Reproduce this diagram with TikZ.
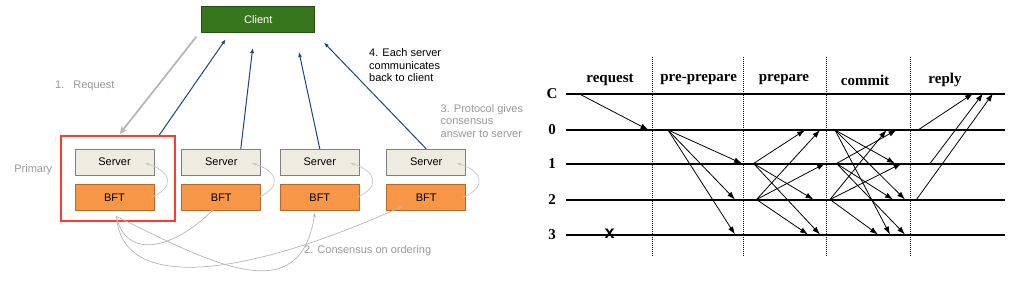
\documentclass[tikz,border=0pt]{standalone}
\usepackage{fontspec}
\setmainfont{Liberation Sans}
\newfontfamily\chartfont{Liberation Serif}
\usepackage{xcolor}
\usepackage{tikz}
\usetikzlibrary{arrows.meta,positioning,calc}

\definecolor{clientgreen}{HTML}{38761D}
\definecolor{clientedge}{HTML}{274E13}
\definecolor{srvfill}{HTML}{EEECE1}
\definecolor{srvedge}{HTML}{7F7F7F}
\definecolor{bftfill}{HTML}{F79646}
\definecolor{bftedge}{HTML}{B46A2E}
\definecolor{primred}{HTML}{FF3B2F}
\definecolor{replyblue}{HTML}{1C4587}
\definecolor{notegray}{HTML}{999999}
\definecolor{linkgray}{HTML}{B7B7B7}

\begin{document}
\begin{tikzpicture}[
    x=1pt, y=-1pt,
    box/.style={draw, line width=0.8pt, minimum width=79pt, minimum height=26pt, inner sep=0pt, font=\fontsize{11}{12}\selectfont},
    srv/.style={box, fill=srvfill, draw=srvedge},
    bft/.style={box, fill=bftfill, draw=bftedge},
    note/.style={font=\fontsize{11}{12.5}\selectfont, align=left, inner sep=0pt},
    reqarr/.style={draw=linkgray, line width=1.8pt, -{Stealth[length=8pt,width=7pt]}},
    backarr/.style={draw=replyblue, line width=1pt, -{Latex[length=5pt,width=4pt]}},
    linkarr/.style={draw=linkgray, line width=0.7pt, -{Stealth[length=4pt,width=3pt]}},
    lane/.style={line width=2pt},
    phase/.style={line width=0.9pt, dash pattern=on 1pt off 1pt},
    msg/.style={line width=0.8pt, -{Latex[length=8pt,width=5.5pt]}},
    hdr/.style={font=\chartfont\bfseries\fontsize{15}{17}\selectfont, inner sep=0pt},
    lanelbl/.style={font=\chartfont\bfseries\fontsize{15}{17}\selectfont, inner sep=0pt}
]
\fill[white] (0,0) rectangle (1024,285);
\useasboundingbox (0,0) rectangle (1024,285);

% client and replicas
\node[draw=clientedge, line width=0.8pt, fill=clientgreen, text=white, minimum width=113pt, minimum height=26pt, font=\fontsize{11}{12}\selectfont] (client) at (258.3,19.2) {Client};
\node[draw=primred, line width=2pt, minimum width=114pt, minimum height=85pt] (prim) at (117.7,178.5) {};
\node[srv] (s1) at (114.5,162.2) {Server};
\node[srv, right=27pt of s1] (s2) {Server};
\node[srv, right=18.7pt of s2] (s3) {Server};
\node[srv, right=26.6pt of s3] (s4) {Server};
\foreach \i in {1,...,4}
    \node[bft, below=8.3pt of s\i] (b\i) {BFT};

% notes
\node[note, text=notegray] (primlbl) at (33.3,170) {Primary};
\node[note, text=notegray, anchor=west] (reqlbl) at (55,85.7) {1.\hspace{9pt}Request};
\node[note, anchor=north west] (backlbl) at (369,48.5) {4. Each server\\communicates\\back to client};
\node[note, text=notegray, anchor=west] (answlbl) at (440.5,120.7) {3. Protocol gives\\consensus\\answer to server};
\node[note, text=notegray, anchor=west] (ordlbl) at (304,250.7) {2. Consensus on ordering};

% request and replies
\draw[reqarr] ($(client.south west)+(-5,4)$) -- ($(prim.north)+(2,-1)$);
\draw[backarr] ($(prim.north east)+(-16.4,0)$) -- ($(client.south)+(-32.6,6.7)$);
\draw[backarr] ($(s2.north)+(19.5,0)$) -- ($(client.south)+(-5.6,15.4)$);
\draw[backarr] (s3.north) -- ($(client.south)+(40.7,19.4)$);
\draw[backarr] (s4.north) -- ($(client.south)+(65.7,10)$);

% bft to server
\foreach \i in {1,...,4}
    \draw[linkarr, draw=linkgray!80] ($(b\i.east)+(-3,0)$) .. controls +(24,-10) and +(26,8) .. ($(s\i.east)+(-9,1)$);

% consensus among replicas
\draw[linkarr] ($(b1.south)+(2,5.7)$) .. controls (125,258) and (170,252) .. ($(b2.south)+(-7,-2)$);
\draw[linkarr] ($(b1.south)+(2,5.7)$) .. controls (215,265) and (300,310) .. ($(b3.south)+(-5,2.4)$);
\draw[linkarr] ($(b1.south)+(2,5.7)$) .. controls (122,295) and (250,275) .. ($(b4.south)+(-24,-4.3)$);

% message chart
\foreach \n/\yy in {C/93.5,0/130,1/163.5,2/199.5,3/234.5} {
    \coordinate (l\n) at (0,\yy);
    \draw[lane] ($(l\n)+(566,0)$) -- ($(l\n)+(1005,0)$);
    \node[lanelbl] (t\n) at (552,\yy) {\n};
}
\foreach \x [count=\i] in {652.7,743,826.7,910}
    \draw[phase] (\x,57) coordinate (p\i) -- (\x,257);
\foreach \x/\t [count=\i] in {610/request,698.7/pre-prepare,784/prepare,865/commit,945/reply}
    \node[hdr] (h\i) at (\x,80) {\t};
\node[font=\bfseries\fontsize{18}{19}\selectfont, inner sep=0pt] (fail) at (609.5,233.5) {x};

\foreach \a/\xa/\b/\xb in {C/578.5/0/648.5,
    0/668/1/742, 0/668/2/735, 0/668/3/735,
    1/753.5/0/805, 1/753.5/2/813.5, 1/753.5/3/820,
    2/756.5/0/820, 2/756.5/1/825, 2/756.5/3/808,
    0/835/1/895, 0/835/2/905, 0/835/3/890,
    1/836.5/0/896.5, 1/836.5/2/893, 1/836.5/3/905,
    2/830/0/886.5, 2/830/1/901.5, 2/830/3/878,
    0/918/C/973, 1/930/C/983, 2/916.5/C/993}
    \draw[msg] ($(l\a)+(\xa,0)$) -- ($(l\b)+(\xb,0)$);
\end{tikzpicture}
\end{document}
